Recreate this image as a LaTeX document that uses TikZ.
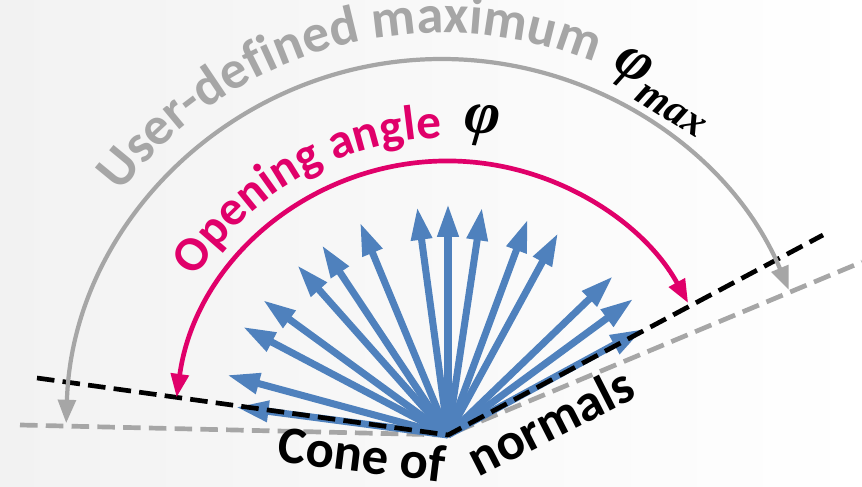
\documentclass[tikz,border=0pt]{standalone}
\usepackage{fontspec}
\setmainfont{Carlito}
\newfontfamily\phifont{Liberation Serif}
\usetikzlibrary{arrows.meta, decorations.text}
\definecolor{normalblue}{HTML}{4F81BD}
\definecolor{maxgray}{HTML}{A6A6A6}
\definecolor{anglepink}{HTML}{E0006A}
\definecolor{bgleft}{HTML}{F2F2F2}

\begin{document}
\begin{tikzpicture}[
  x=0.03cm, y=0.03cm,
  conearrow/.style={draw=normalblue, line width=6pt, -{Triangle[length=28pt, width=17pt]}},
  edgeline/.style={line width=4pt, dash pattern=on 15pt off 7pt},
  sweeparc/.style={line width=3.6pt, {Triangle[length=20pt, width=15pt]}-{Triangle[length=20pt, width=15pt]}},
  boldtext/.style={font=\fontsize{45}{48}\selectfont\bfseries, inner sep=0pt},
  phitext/.style={font=\fontsize{52}{54}\selectfont\phifont\bfseries\itshape, inner sep=0pt}
]
  \shade[left color=bgleft, right color=white] (0,0) rectangle (862,487);
  \useasboundingbox (0,0) rectangle (862,487);

  \coordinate (apex) at (448,52);
  \coordinate (center) at (442,52);
  \coordinate (maxL) at (20,62);
  \coordinate (maxR) at (862,225);
  \coordinate (openL) at (37,109);
  \coordinate (openR) at (823,252);

  \draw[edgeline, maxgray] (maxL) -- (apex) -- (maxR);
  \foreach \ang/\len in {172.5/214, 164.8/229, 152.2/232, 143.9/229, 131.6/227,
    123.6/228, 112.5/230, 97.7/230, 90/231, 81.5/230, 69.7/230, 61.4/230,
    43.9/229, 36.3/230, 28.5/222}
    \draw[conearrow] (apex) -- ++(\ang:\len);
  \draw[edgeline, black] (openL) -- (apex) -- (openR);

  \draw[sweeparc, maxgray] ([shift={(178.2:376)}]center) arc[start angle=178.2, end angle=22.7, radius=376];
  \draw[sweeparc, anglepink, line width=4pt] ([shift={(172.1:274)}]apex) arc[start angle=172.1, end angle=28.8, radius=274];

  \path[decorate, decoration={text along path, text color=maxgray,
    text={|\fontsize{46}{50}\selectfont\bfseries|User-defined maximum}}]
    ([shift={(143:402)}]center) arc[start angle=143, end angle=20, radius=402];
  \path[decorate, decoration={text along path, text color=anglepink,
    text={|\fontsize{42}{48}\selectfont\bfseries|Opening angle}}]
    ([shift={(148:297)}]apex) arc[start angle=148, end angle=40, radius=297];

  \node[phitext, rotate=-32] (phimax) at (662,396) {φ\raisebox{-0.25em}{\fontsize{36}{38}\selectfont max}};
  \node[phitext, rotate=-6] (phi) at (482,361) {φ};
  \node[boldtext, rotate=-7] (cone) at (362,33) {Cone of};
  \node[boldtext, rotate=27] (normals) at (550,66) {normals};
\end{tikzpicture}
\end{document}
